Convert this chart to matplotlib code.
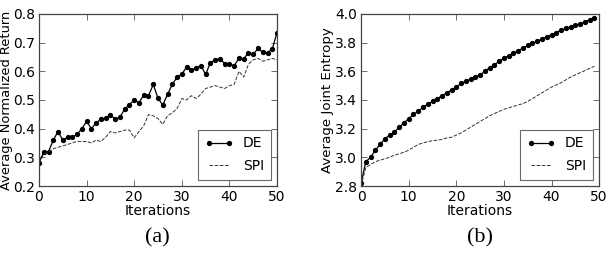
import matplotlib.pyplot as plt
plt.switch_backend("Agg")

# iterations
iters_a = list(range(51))
iters_b = list(range(50))

# (a) average normalized return
de_return = [0.28, 0.32, 0.32, 0.36, 0.39, 0.36, 0.37, 0.37, 0.38, 0.40,
             0.425, 0.40, 0.42, 0.433, 0.437, 0.449, 0.432, 0.44, 0.468, 0.484,
             0.50, 0.49, 0.518, 0.515, 0.554, 0.506, 0.482, 0.52, 0.554, 0.58,
             0.589, 0.616, 0.604, 0.612, 0.62, 0.589, 0.63, 0.64, 0.644, 0.627,
             0.625, 0.62, 0.645, 0.644, 0.665, 0.659, 0.68, 0.666, 0.665, 0.678,
             0.735]
spi_return = [0.28, 0.31, 0.32, 0.33, 0.335, 0.34, 0.345, 0.35, 0.356, 0.355,
              0.355, 0.35, 0.36, 0.355, 0.37, 0.39, 0.385, 0.39, 0.395, 0.395,
              0.368, 0.39, 0.41, 0.449, 0.445, 0.435, 0.415, 0.445, 0.455, 0.47,
              0.505, 0.50, 0.515, 0.505, 0.52, 0.54, 0.545, 0.55, 0.545, 0.54,
              0.55, 0.555, 0.60, 0.58, 0.625, 0.64, 0.645, 0.635, 0.64, 0.645,
              0.64]

# (b) average joint entropy
de_entropy = [2.82, 2.97, 3.0, 3.05, 3.09, 3.13, 3.155, 3.175, 3.21, 3.24,
              3.27, 3.30, 3.32, 3.35, 3.37, 3.39, 3.41, 3.43, 3.45, 3.47,
              3.49, 3.515, 3.53, 3.545, 3.56, 3.575, 3.60, 3.625, 3.645, 3.67,
              3.69, 3.71, 3.725, 3.745, 3.76, 3.78, 3.795, 3.81, 3.825, 3.84,
              3.855, 3.87, 3.885, 3.90, 3.91, 3.92, 3.93, 3.945, 3.96, 3.975]
spi_entropy = [2.80, 2.93, 2.95, 2.97, 2.98, 2.99, 3.0, 3.015, 3.025, 3.035,
               3.05, 3.07, 3.09, 3.10, 3.11, 3.115, 3.12, 3.125, 3.135, 3.14,
               3.155, 3.17, 3.19, 3.21, 3.23, 3.25, 3.27, 3.29, 3.305, 3.32,
               3.335, 3.345, 3.355, 3.365, 3.375, 3.39, 3.41, 3.43, 3.45, 3.47,
               3.49, 3.505, 3.52, 3.54, 3.56, 3.575, 3.59, 3.605, 3.62, 3.635]

fig = plt.figure(figsize=(6.12, 2.58), dpi=100)
ax1 = fig.add_axes([0.0637, 0.279, 0.389, 0.667])
ax2 = fig.add_axes([0.590, 0.279, 0.389, 0.667])


def style(ax):
    ax.tick_params(direction="in", top=True, right=True, labelsize=10,
                   length=4, width=0.6, color="#555555", pad=3)
    for s in ax.spines.values():
        s.set_color("#444444")
        s.set_linewidth(0.9)
    ax.set_xlim(0, 50)
    ax.set_xticks([0, 10, 20, 30, 40, 50])
    ax.set_xlabel("Iterations", fontsize=10, labelpad=0)
    leg = ax.legend(loc="lower right", fontsize=10, fancybox=False,
                    numpoints=2, handlelength=2.0, borderaxespad=0.45,
                    labelspacing=0.6, borderpad=0.5, handletextpad=0.7)
    leg.get_frame().set_edgecolor("#444444")
    leg.get_frame().set_linewidth(0.8)


ax1.plot(iters_a, de_return, "k-", marker="o", markersize=2.8, lw=0.9, label="DE")
ax1.plot(iters_a, spi_return, "--", color="#333333", lw=0.7, label="SPI")
ax1.set_ylim(0.2, 0.8)
ax1.set_yticks([0.2, 0.3, 0.4, 0.5, 0.6, 0.7, 0.8])
ax1.set_ylabel("Average Normalized Return", fontsize=9.4, labelpad=0)
style(ax1)

ax2.plot(iters_b, de_entropy, "k-", marker="o", markersize=2.8, lw=0.9, label="DE")
ax2.plot(iters_b, spi_entropy, "--", color="#333333", lw=0.7, label="SPI")
ax2.set_ylim(2.8, 4.0)
ax2.set_yticks([2.8, 3.0, 3.2, 3.4, 3.6, 3.8, 4.0])
ax2.set_ylabel("Average Joint Entropy", fontsize=9.6, labelpad=1)
style(ax2)

# sub-figure captions
fig.text(0.257, 0.08, "(a)", fontsize=16, family="Liberation Serif", ha="center", va="center")
fig.text(0.784, 0.08, "(b)", fontsize=16, family="Liberation Serif", ha="center", va="center")

fig.savefig("out.png", dpi=100)
